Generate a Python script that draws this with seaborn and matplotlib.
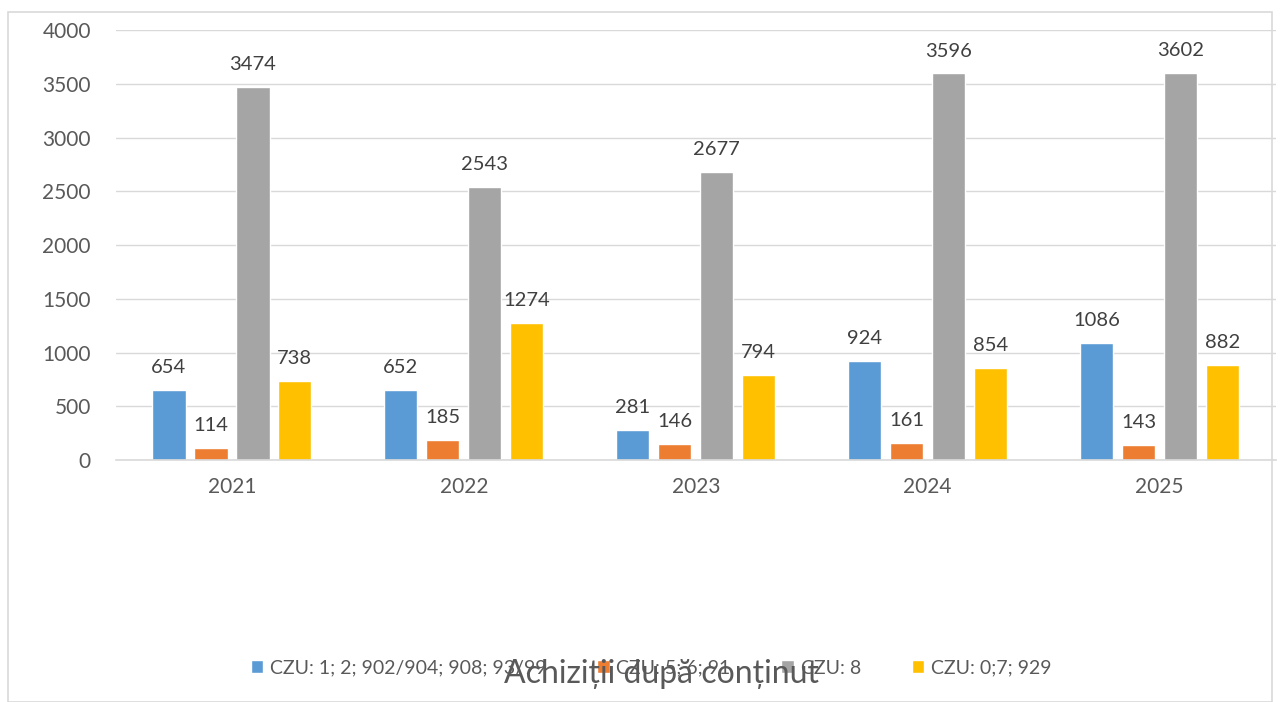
import pandas as pd
import seaborn as sns
import matplotlib.pyplot as plt
from matplotlib.patches import Rectangle

years = ["2021", "2022", "2023", "2024", "2025"]
series = ["CZU: 1; 2; 902/904; 908; 93/99", "CZU: 5; 6; 91", "CZU: 8", "CZU: 0;7; 929"]
s1 = [654, 652, 281, 924, 1086]
s2 = [114, 185, 146, 161, 143]
s3 = [3474, 2543, 2677, 3596, 3602]
s4 = [738, 1274, 794, 854, 882]
colors = ["#5b9bd5", "#ed7d31", "#a5a5a5", "#ffc000"]

rows = []
for name, vals in zip(series, [s1, s2, s3, s4]):
    for y, v in zip(years, vals):
        rows.append({"year": y, "series": name, "value": v})
df = pd.DataFrame(rows)

sns.set_style("white")
plt.rcParams["font.family"] = ["Lato", "DejaVu Sans"]

fig = plt.figure(figsize=(12.8, 7.02), dpi=100)
ax = fig.add_axes([0.0906, 0.3447, 0.906, 0.6125])

sns.barplot(data=df, x="year", y="value", hue="series", palette=colors,
            width=0.724, gap=0.21, saturation=1, ax=ax)

for c in ax.containers:
    ax.bar_label(c, padding=10, fontsize=14.5, color="#404040")

ax.set_xlim(-0.5, 4.5)
ax.set_ylim(0, 4000)
ax.set_yticks(range(0, 4001, 500))
ax.yaxis.grid(True, color="#d9d9d9", linewidth=1)
ax.set_axisbelow(True)
for s in ["top", "right", "left"]:
    ax.spines[s].set_visible(False)
ax.spines["bottom"].set_color("#d9d9d9")
ax.spines["bottom"].set_linewidth(1.2)
ax.tick_params(axis="both", length=0, labelsize=15, labelcolor="#595959")
ax.tick_params(axis="y", pad=18)
ax.tick_params(axis="x", pad=12)
ax.set_xlabel("")
ax.set_ylabel("")

leg = ax.legend(loc="center", bbox_to_anchor=(651 / 1280, 1 - 668 / 702),
                bbox_transform=fig.transFigure, ncol=4, frameon=False,
                fontsize=14, handlelength=0.65, handleheight=0.65,
                handletextpad=0.35, columnspacing=2.6)
for t in leg.get_texts():
    t.set_color("#595959")

fig.text(662 / 1280, 1 - 674 / 702, "Achiziții după conținut", ha="center",
         va="center", fontsize=23, color="#595959")

fig.patches.append(Rectangle((8 / 1280, 0), 1264 / 1280, 1 - 12 / 702,
                             transform=fig.transFigure, fill=False,
                             edgecolor="#d9d9d9", linewidth=1.2))

fig.savefig("out.png", dpi=100)
